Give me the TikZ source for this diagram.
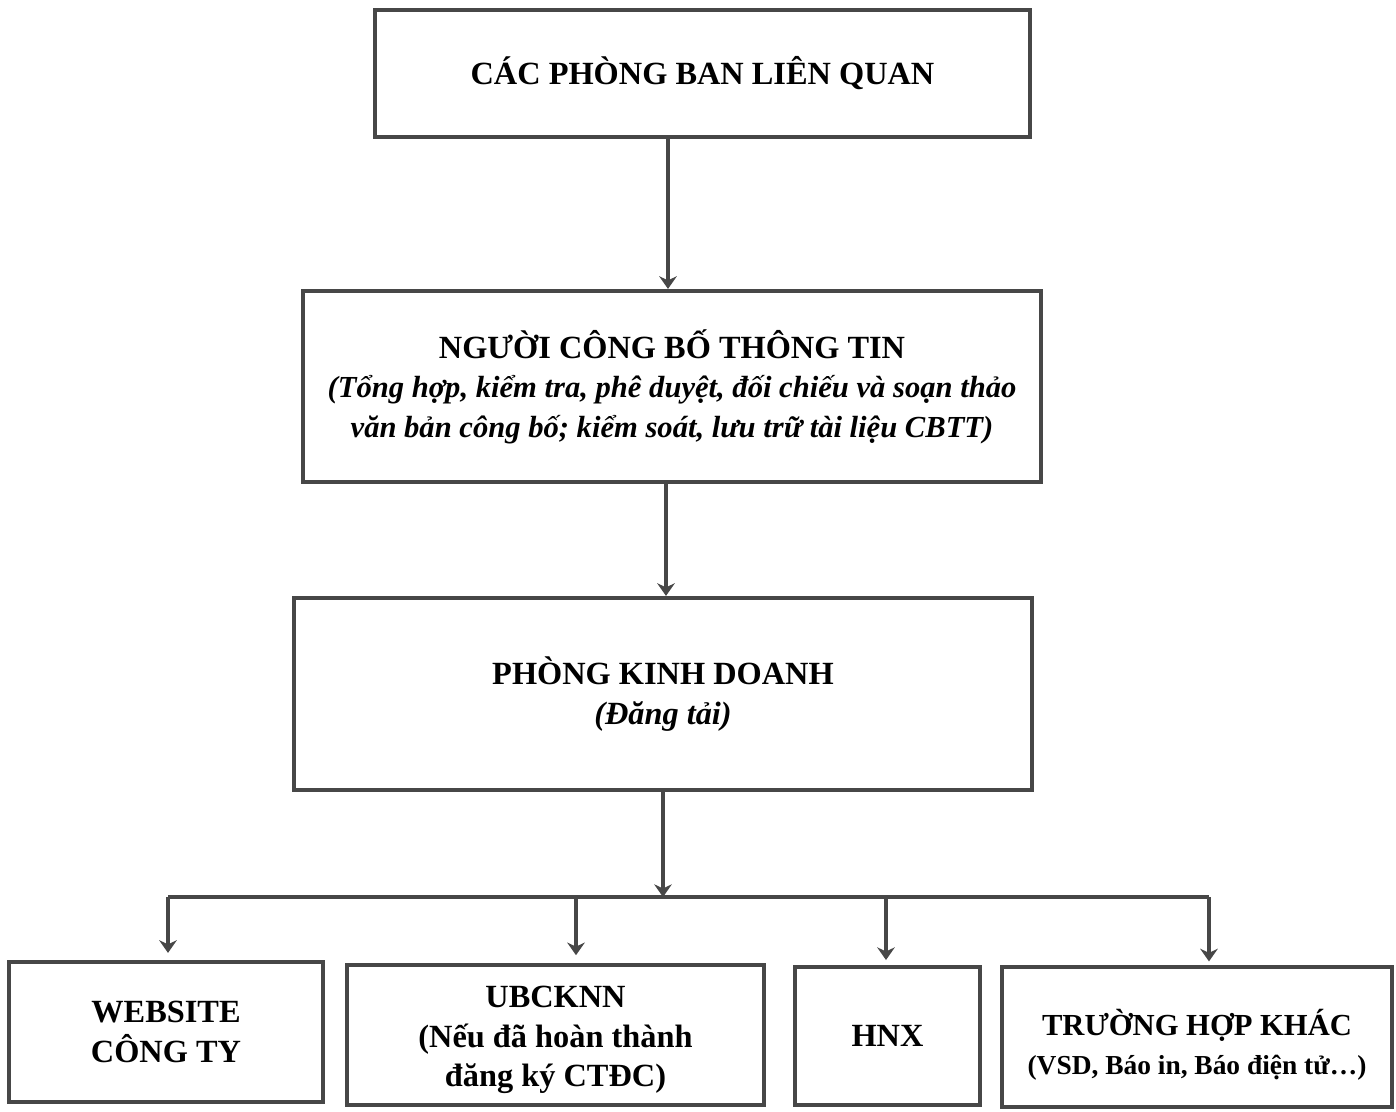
\documentclass[tikz,border=0pt]{standalone}
\usepackage{fontspec}
\setmainfont{Liberation Serif}
\usetikzlibrary{arrows.meta}
\definecolor{ink}{gray}{0.28}
\tikzset{
  hop/.style={draw=ink, line width=1.15pt, align=center, inner sep=0pt,
    font=\fontsize{9.2}{11.2}\selectfont\bfseries},
  mui/.style={draw=ink, line width=0.9pt, -{Stealth[length=3.6pt,width=5pt]}},
  day/.style={draw=ink, line width=0.9pt}
}
\begin{document}
\begin{tikzpicture}  % ------ Quy trình công bố thông tin ---------------
      [x=0.01cm,y=-0.01cm]
    \useasboundingbox (0,0) rectangle (1396,1112);

    \node[hop, minimum width=6.55cm, minimum height=1.27cm] (phongban) at (702.5,73.5)
      {CÁC PHÒNG BAN LIÊN QUAN};
    \node[hop, minimum width=7.38cm, minimum height=1.91cm] (nguoicbtt) at (672,386.5)
      {NGƯỜI CÔNG BỐ THÔNG TIN\\
       {\fontsize{8.7}{11.2}\selectfont\itshape (Tổng hợp, kiểm tra, phê duyệt, đối chiếu và soạn thảo}\\
       {\fontsize{8.7}{11.2}\selectfont\itshape văn bản công bố; kiểm soát, lưu trữ tài liệu CBTT)}};
    \node[hop, minimum width=7.38cm, minimum height=1.92cm] (kinhdoanh) at (663,694)
      {PHÒNG KINH DOANH\\ {\itshape (Đăng tải)}};

    \node[hop, minimum width=3.14cm, minimum height=1.40cm] (website) at (166,1032)
      {WEBSITE\\ CÔNG TY};
    \node[hop, minimum width=4.17cm, minimum height=1.40cm] (ubck) at (555.5,1035)
      {\rule{0pt}{9pt}UBCKNN\\ (Nếu đã hoàn thành\\ đăng ký CTĐC)};
    \node[hop, minimum width=1.85cm, minimum height=1.38cm] (hnx) at (887.5,1036)
      {HNX};
    \node[hop, minimum width=3.90cm, minimum height=1.40cm] (khac) at (1197,1037)
      {{\fontsize{8.7}{11}\selectfont\rule{0pt}{12pt}TRƯỜNG HỢP KHÁC}\\
       {\fontsize{7.8}{11}\selectfont (VSD, Báo in, Báo điện tử…)}};

    \coordinate (bus) at (663,897);
    \coordinate (b1) at (168,897);
    \coordinate (b2) at (576,897);
    \coordinate (b3) at (886,897);
    \coordinate (b4) at (1209,897);

    \draw[mui] (phongban.south -| 668,0) -- (nguoicbtt.north -| 668,0);
    \draw[mui] (nguoicbtt.south -| 666,0) -- (kinhdoanh.north -| 666,0);
    \draw[mui] (kinhdoanh.south) -- (bus);
    \draw[day] (b1) -- (b4);
    \draw[mui, shorten >=2pt] (b1) -- (b1 |- website.north);
    \draw[mui, shorten >=2.2pt] (b2) -- (b2 |- ubck.north);
    \draw[mui, shorten >=1.4pt] (b3) -- (b3 |- hnx.north);
    \draw[mui, shorten >=1pt] (b4) -- (b4 |- khac.north);
\end{tikzpicture}
\end{document}
